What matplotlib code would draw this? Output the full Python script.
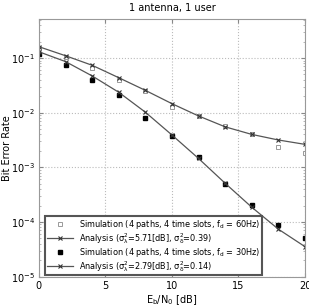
import numpy as np
import matplotlib.pyplot as plt

snr = [0, 2, 4, 6, 8, 10, 12, 14, 16, 18, 20]
sim_60 = [0.150, 0.105, 0.065, 0.039, 0.025, 0.0126, 0.0087, 0.0056, 0.0040, 0.00235, 0.00186]
ana_60 = [0.161, 0.110, 0.0736, 0.0436, 0.0256, 0.0146, 0.0087, 0.0055, 0.0040, 0.00316, 0.00263]
sim_30 = [0.118, 0.0745, 0.0396, 0.0208, 0.0079, 0.0037, 0.00157, 0.00050, 0.000205, 0.000089, 0.000051]
ana_30 = [0.130, 0.086, 0.047, 0.0236, 0.0102, 0.0039, 0.00145, 0.00051, 0.000186, 0.0000738, 0.0000353]

labels = [
    'Simulation (4 paths, 4 time slots, $\\mathregular{f_d}$ = 60Hz)',
    'Analysis ($\\mathregular{\\sigma_\\lambda^2}$=5.71[dB], $\\mathregular{\\sigma_\\delta^2}$=0.39)',
    'Simulation (4 paths, 4 time slots, $\\mathregular{f_d}$ = 30Hz)',
    'Analysis ($\\mathregular{\\sigma_\\lambda^2}$=2.79[dB], $\\mathregular{\\sigma_\\delta^2}$=0.14)',
]

plt.rcParams['font.family'] = 'DejaVu Sans'
fig = plt.figure(figsize=(3.09, 3.07), dpi=100)
ax = fig.add_axes([0.126, 0.099, 0.861, 0.838])

ax.plot(snr, sim_60, linestyle='none', marker='s', markersize=3.2, markerfacecolor='white',
        markeredgecolor='#999999', markeredgewidth=0.7, label=labels[0])
ax.plot(snr, ana_60, color='#555555', linewidth=0.9, marker='x', markersize=3.5,
        markeredgecolor='#333333', markeredgewidth=0.8, label=labels[1])
ax.plot(snr, sim_30, linestyle='none', marker='s', markersize=3.2, color='black', label=labels[2])
ax.plot(snr, ana_30, color='#555555', linewidth=0.9, marker='x', markersize=3.5,
        markeredgecolor='#333333', markeredgewidth=0.8, label=labels[3])

ax.set_yscale('log')
ax.set_xlim(0, 20)
ax.set_ylim(1e-5, 0.51)
ax.set_xticks([0, 5, 10, 15, 20])
ax.set_yticks([1e-5, 1e-4, 1e-3, 1e-2, 1e-1])
ax.grid(True, which='major', color='#bbbbbb', linestyle=':', linewidth=0.8)
ax.tick_params(direction='in', labelsize=7, right=True, top=True, length=3, color='#888888', pad=3)
ax.tick_params(which='minor', direction='in', right=True, length=1.5, color='#aaaaaa')
for s in ax.spines.values():
    s.set_color('#999999')
    s.set_linewidth(0.8)

ax.set_title('1 antenna, 1 user', fontsize=7, pad=6)
ax.set_xlabel('$\\mathregular{E_b/N_0}$ [dB]', fontsize=7, labelpad=2)
ax.set_ylabel('Bit Error Rate', fontsize=7)
ax.yaxis.set_label_coords(-0.1, 0.5)

leg = ax.legend(loc='lower left', bbox_to_anchor=(0.02, 0.0), fontsize=5.9, fancybox=False,
                framealpha=1, edgecolor='#555555', handlelength=3.2, borderpad=0.2,
                labelspacing=0.0, handletextpad=0.7, borderaxespad=0.15)
leg.get_frame().set_linewidth(1.5)

fig.savefig('out.png', dpi=100)
